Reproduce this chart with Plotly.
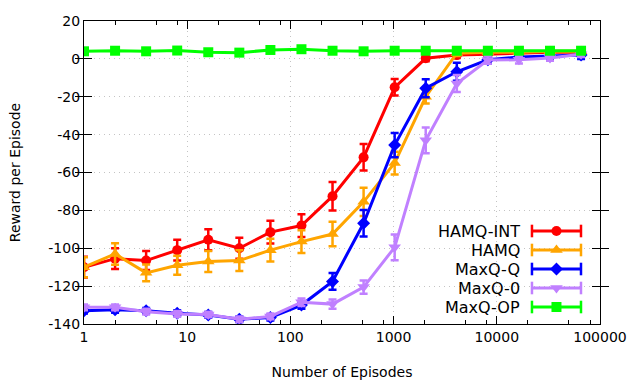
import plotly.graph_objects as go

episodes = [1, 2, 4, 8, 16, 32, 64, 128, 256, 512, 1024, 2048, 4096, 8192, 16384, 32768, 65536]

hamq_int = [-110, -105.5, -106.5, -101, -95.5, -100, -91.5, -88, -72.5, -52, -15, 0.3, 2, 2.5, 3, 3.5, 3.5]
hamq_int_err = [5.5, 5.5, 5, 5.5, 5.5, 5.5, 6, 6, 7.5, 7, 4.4, 1.5, 1.5, 1.5, 1.5, 1.5, 1.5]

hamq = [-110, -103, -113, -109, -107, -106.5, -101, -96.5, -92.5, -75.5, -55, -20, 3, 3.5, 3.5, 4, 4]
hamq_err = [5.3, 5.7, 4.4, 5, 5.5, 5.5, 6, 6, 6.5, 7.5, 6, 3.5, 1.5, 1.5, 1.5, 1.5, 1.5]

maxq_q = [-133, -132.5, -133, -134.3, -135.2, -137.5, -136.6, -130, -117.5, -86.8, -45.5, -15.5, -6.8, -0.5, 1, 1.5, 2]
maxq_q_err = [1.5, 1.5, 1.5, 1.5, 1.5, 1.5, 1.5, 2, 4.4, 7, 6.4, 4.7, 4.7, 2, 1.5, 1.5, 2]

maxq_0 = [-131.2, -131.2, -133.5, -134.7, -135, -137.5, -136, -128.5, -129.5, -120.5, -99.5, -43, -13, -0.6, -0.5, 0.5, 2.5]
maxq_0_err = [1.5, 1.5, 1.5, 1.5, 1.5, 1.5, 1.5, 2, 2.5, 3.5, 6.8, 6.8, 4.5, 2, 2, 1.5, 1.5]

maxq_op = [4, 4.3, 4, 4.4, 3.5, 3.3, 4.7, 5.1, 4.3, 4, 4.3, 4.3, 4.3, 4.3, 4.3, 4.3, 4.3]
maxq_op_err = [1, 1, 1, 1, 1, 1, 1, 1, 1, 1, 1, 1, 1, 1, 1, 1, 1]

series_names = ["HAMQ-INT", "HAMQ", "MaxQ-Q", "MaxQ-0", "MaxQ-OP"]
series_values = [hamq_int, hamq, maxq_q, maxq_0, maxq_op]
series_errors = [hamq_int_err, hamq_err, maxq_q_err, maxq_0_err, maxq_op_err]

x_tick_vals = [1, 10, 100, 1000, 10000, 100000]
x_tick_text = ["1", "10", "100", "1000", "10000", "100000"]
x_minor_vals = [m * d for d in [1, 10, 100, 1000, 10000] for m in (2, 5, 8)]
y_tick_vals = [20, 0, -20, -40, -60, -80, -100, -120, -140]
y_tick_text = ["20", "0", "-20", "-40", "-60", "-80", "-100", "-120", "-140"]

colors = ["#ff0000", "#ffa500", "#0000ff", "#c080ff", "#00ff00"]
symbols = ["circle", "triangle-up", "diamond", "triangle-down", "square"]
sizes = [10, 11, 10, 11, 10]

FONT = "DejaVu Sans"
fig = go.Figure()

for name, vals, errs, c, s, sz in zip(series_names, series_values, series_errors, colors, symbols, sizes):
    fig.add_trace(go.Scatter(
        x=episodes, y=vals, name=name, mode="lines+markers",
        line=dict(color=c, width=3),
        marker=dict(symbol=s, size=sz, color=c),
        error_y=dict(type="data", array=errs, color=c, thickness=2.5, width=4),
        showlegend=False,
    ))

# empty trace to make the minor-tick overlay axis render
fig.add_trace(go.Scatter(x=[], y=[], xaxis="x3", yaxis="y", showlegend=False, hoverinfo="skip"))

# custom legend (text left of sample, gnuplot style) on an overlay pixel axis
L = 84.3
R = 600.0
T = 21.0
B = 324.0
leg_rows = [231, 250, 269, 288, 307]
for i, (name, c, s, sz) in enumerate(zip(series_names, colors, symbols, sizes)):
    yrow = leg_rows[i]
    fig.add_trace(go.Scatter(
        x=[532, 581], y=[yrow, yrow], xaxis="x2", yaxis="y2", mode="lines+markers",
        line=dict(color=c, width=3),
        marker=dict(symbol="line-ns", size=9, line=dict(color=c, width=2.5)),
        showlegend=False, hoverinfo="skip"))
    fig.add_trace(go.Scatter(
        x=[556.5], y=[yrow], xaxis="x2", yaxis="y2", mode="markers",
        marker=dict(symbol=s, size=sz, color=c),
        showlegend=False, hoverinfo="skip"))
    fig.add_annotation(x=522, y=yrow, xref="x2", yref="y2", text=name,
                       showarrow=False, xanchor="right", yanchor="middle",
                       font=dict(family=FONT, size=16, color="black"))

axis_common = dict(
    showline=True, linecolor="black", linewidth=1.2, mirror="allticks",
    ticks="inside", tickcolor="black", tickwidth=1, automargin=False,
    showgrid=True, gridcolor="#c4c4c4", griddash="1px,4px", gridwidth=1,
    zeroline=False, tickfont=dict(family=FONT, size=14, color="black"),
)

fig.update_layout(
    width=640, height=384,
    margin=dict(l=L, r=640 - R, t=T, b=384 - B),
    paper_bgcolor="white", plot_bgcolor="white",
    font=dict(family=FONT, color="black"),
    xaxis=dict(type="log", range=[0, 5], tickmode="array", tickvals=x_tick_vals, ticktext=x_tick_text,
               ticklen=8,
               title=dict(text="Number of Episodes", font=dict(family=FONT, size=14), standoff=23),
               **axis_common),
    xaxis3=dict(type="log", range=[0, 5], overlaying="x", anchor="y", tickmode="array",
                tickvals=x_minor_vals, showticklabels=False, ticks="inside", ticklen=4,
                tickcolor="black", mirror="allticks", showline=False, showgrid=False,
                zeroline=False, automargin=False, fixedrange=True),
    yaxis=dict(range=[-140, 20], tickmode="array", tickvals=y_tick_vals, ticktext=y_tick_text,
               ticklen=8,
               title=dict(text="Reward per Episode", font=dict(family=FONT, size=14), standoff=24),
               **axis_common),
    xaxis2=dict(overlaying="x", anchor="y2", range=[L, R], visible=False, fixedrange=True),
    yaxis2=dict(overlaying="y", anchor="x2", range=[B, T], visible=False, fixedrange=True),
)

fig.write_html("out.html", config={"displayModeBar": False},
               post_script="document.body.style.margin='0';document.body.style.overflow='hidden';")
